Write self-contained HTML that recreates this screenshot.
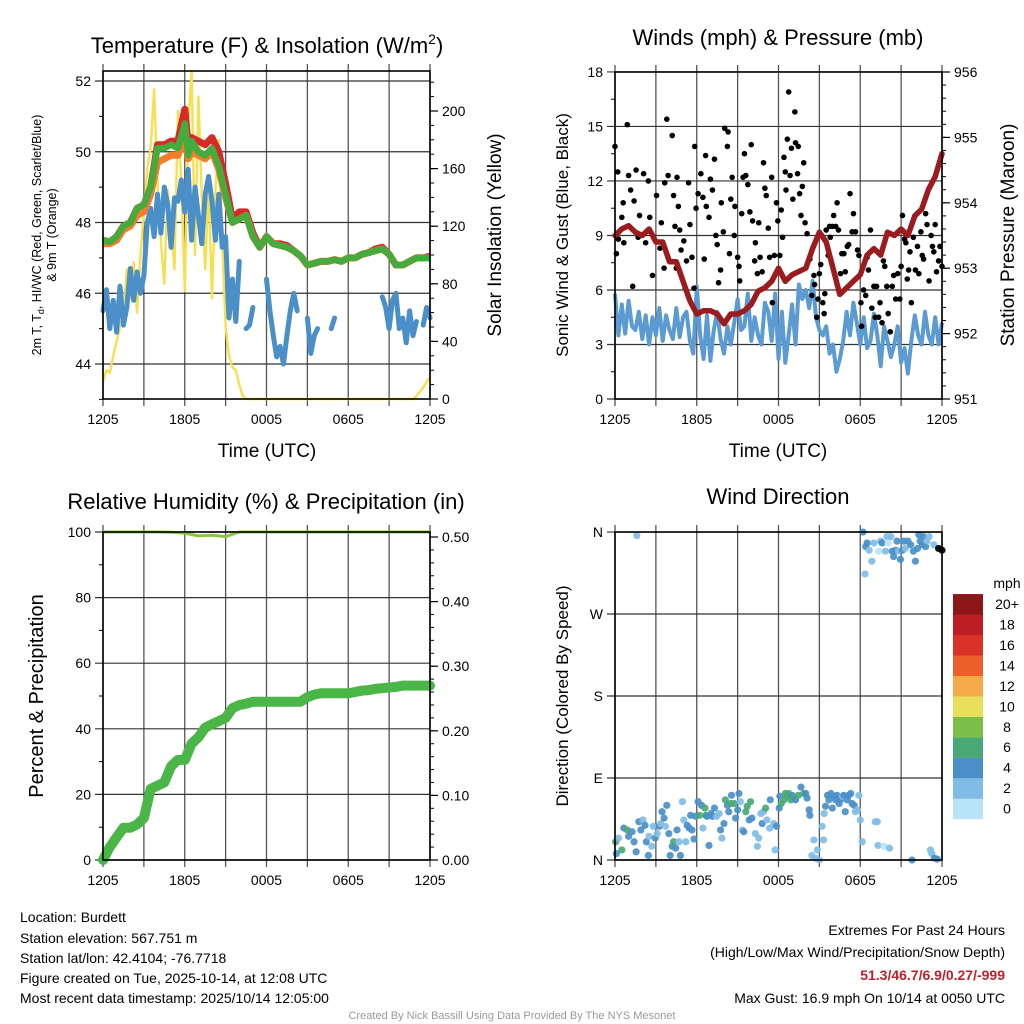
<!DOCTYPE html>
<html><head><meta charset="utf-8">
<style>
html,body{margin:0;padding:0;background:#fff;}
svg{display:block;font-family:"Liberation Sans",sans-serif;}
</style></head>
<body>
<svg id="fig" width="1024" height="1024" viewBox="0 0 1024 1024">
<g id="layer-grid"></g>
<g id="layer-data"></g>
<g id="layer-axes"></g>

<text x="267" y="53" font-size="22" text-anchor="middle">Temperature (F) &amp; Insolation (W/m<tspan font-size="14" dy="-9">2</tspan><tspan dy="9">)</tspan></text>
<text x="778" y="45" font-size="22" text-anchor="middle">Winds (mph) &amp; Pressure (mb)</text>
<text x="266" y="509" font-size="22" text-anchor="middle">Relative Humidity (%) &amp; Precipitation (in)</text>
<text x="778" y="504" font-size="22" text-anchor="middle">Wind Direction</text>

<text x="267" y="457" font-size="19" text-anchor="middle">Time (UTC)</text>
<text x="778" y="457" font-size="19" text-anchor="middle">Time (UTC)</text>

<text transform="translate(41,235) rotate(-90)" font-size="12.5" text-anchor="middle">2m T, T<tspan font-size="9" dy="3">d</tspan><tspan dy="-3">, HI/WC (Red, Green, Scarlet/Blue)</tspan></text>
<text transform="translate(56,235) rotate(-90)" font-size="12.5" text-anchor="middle">&amp; 9m T (Orange)</text>
<text transform="translate(501,235) rotate(-90)" font-size="19" text-anchor="middle">Solar Insolation (Yellow)</text>
<text transform="translate(568,235) rotate(-90)" font-size="17" text-anchor="middle">Sonic Wind &amp; Gust (Blue, Black)</text>
<text transform="translate(1014,235) rotate(-90)" font-size="19" text-anchor="middle">Station Pressure (Maroon)</text>
<text transform="translate(43,696) rotate(-90)" font-size="20" text-anchor="middle">Percent &amp; Precipitation</text>
<text transform="translate(568,696) rotate(-90)" font-size="17" text-anchor="middle">Direction (Colored By Speed)</text>

<text x="1007" y="588" font-size="14" text-anchor="middle">mph</text>
<g id="colorbar"></g>

<g font-size="14">
<text x="20" y="922">Location: Burdett</text>
<text x="20" y="943">Station elevation: 567.751 m</text>
<text x="20" y="963">Station lat/lon: 42.4104; -76.7718</text>
<text x="20" y="983">Figure created on Tue, 2025-10-14, at 12:08 UTC</text>
<text x="20" y="1003">Most recent data timestamp: 2025/10/14 12:05:00</text>
</g>
<g font-size="14" text-anchor="end">
<text x="1005" y="935">Extremes For Past 24 Hours</text>
<text x="1005" y="957">(High/Low/Max Wind/Precipitation/Snow Depth)</text>
<text x="1005" y="980" font-weight="bold" fill="#c0202a">51.3/46.7/6.9/0.27/-999</text>
<text x="1005" y="1003">Max Gust: 16.9 mph On 10/14 at 0050 UTC</text>
</g>
<text x="512" y="1019" font-size="11" fill="#999" text-anchor="middle">Created By Nick Bassill Using Data Provided By The NYS Mesonet</text>
</svg>

<script>
// ---------- DATA ----------
const timeTicks = ["1205","1805","0005","0605","1205"];
const tempHours = [0,0.5,1,1.5,2,2.5,3,3.5,4,4.5,5,5.5,6,6.25,6.5,7,7.5,8,8.5,9,9.5,10,10.5,11,11.5,12,12.5,13,13.5,14,14.5,15,15.5,16,16.5,17,17.5,18,18.5,19,19.5,20,20.5,21,21.5,22,22.5,23,23.5,24];
const greenT = [47.5,47.45,47.6,47.9,48.0,48.4,48.5,49.0,50.1,50.1,50.2,50.1,50.8,49.9,50.3,50.0,49.9,50.1,49.6,48.8,48.0,48.1,48.2,47.6,47.3,47.6,47.4,47.35,47.3,47.2,47.05,46.8,46.85,46.9,46.9,46.95,46.9,47.0,47.0,47.1,47.15,47.2,47.25,47.1,46.8,46.8,46.9,47.0,47.0,47.0];
const redT   = [47.5,47.45,47.6,47.9,48.0,48.4,48.5,49.0,50.2,50.2,50.3,50.3,51.2,50.2,50.4,50.3,50.2,50.4,50.0,49.1,48.1,48.3,48.3,47.7,47.3,47.6,47.4,47.4,47.35,47.2,47.05,46.8,46.85,46.9,46.9,46.95,46.9,47.0,47.0,47.1,47.15,47.25,47.3,47.1,46.8,46.8,46.9,47.0,47.0,47.05];
const orangeT= [47.4,47.4,47.5,47.8,47.9,48.2,48.3,48.8,49.7,49.8,49.9,49.9,50.4,49.8,50.0,49.9,49.8,50.0,49.5,48.7,48.0,48.1,48.2,47.6,47.3,47.6,47.4,47.35,47.3,47.2,47.05,46.8,46.85,46.9,46.9,46.95,46.9,47.0,47.0,47.1,47.15,47.2,47.25,47.1,46.8,46.8,46.9,47.0,47.0,47.0];
const dewT = [45.5,46.1,45.0,45.8,44.9,46.2,45.1,45.6,46.7,45.8,46.6,46.0,46.5,48.0,48.4,47.6,48.8,47.7,49.0,48.5,47.3,48.7,48.6,49.2,48.3,49.5,47.5,49.0,48.2,47.4,48.8,49.3,48.6,47.5,48.8,47.3,47.6,45.3,46.4,45.2,46.9,null,45.0,45.1,45.6,null,null,null,46.4,45.5,44.8,44.2,44.5,44.0,44.8,45.5,46.0,45.5,null,null,45.3,44.3,44.8,45.0,null,45.8,null,45.0,45.3,null,null,null,null,45.4,null,null,null,null,null,null,null,null,45.9,45.6,45.0,45.8,46.0,45.0,45.3,44.6,45.5,44.8,45.2,null,45.1,45.6,45.3];
const solar = [12,20,18,30,40,50,60,90,70,95,60,100,130,160,175,215,150,110,80,145,120,90,200,150,75,190,228,100,210,140,90,150,70,145,180,110,50,30,22,20,10,2,0,0,0,0,0,0,0,0,0,0,0,0,0,0,0,0,0,0,0,0,0,0,0,0,0,0,0,0,0,0,0,0,0,0,0,0,0,0,0,0,0,0,0,0,0,0,0,0,0,0,2,5,8,12,15];
const pressure = [953.5,953.6,953.65,953.55,953.5,953.6,953.4,953.4,953.1,953.1,952.8,952.5,952.3,952.35,952.35,952.3,952.15,952.3,952.3,952.35,952.45,952.65,952.7,952.8,953.0,952.8,952.9,952.95,953.0,953.3,953.55,953.4,953.0,952.6,952.7,952.8,952.9,953.2,953.3,953.2,953.55,953.5,953.6,953.5,953.8,953.9,954.2,954.4,954.75];
const windSpd = [5.8,3.5,5.2,3.6,5.4,4.0,3.8,4.8,3.3,4.6,3.0,4.5,3.5,5.0,3.2,4.6,3.8,3.3,5.0,3.4,4.5,4.8,3.2,2.5,6.2,3.5,2.2,4.6,2.1,3.8,4.8,3.3,2.5,4.0,3.0,4.2,5.5,3.8,4.0,5.8,3.2,4.5,3.5,3.0,5.3,4.8,3.2,5.8,2.2,4.8,2.0,3.5,5.2,3.0,6.3,5.5,6.0,5.0,6.5,4.5,3.8,3.5,4.0,2.5,3.0,1.5,2.2,3.2,4.8,3.5,5.3,4.2,3.0,4.5,2.8,3.2,4.7,3.5,1.8,4.0,3.2,2.3,3.0,4.0,2.0,2.8,1.4,3.2,4.6,3.5,3.0,4.8,3.5,3.0,4.5,3.0,4.2];
const gustHours = [0,0.1,0.2,0.25,0.5,0.6,0.65,0.9,1.0,1.15,1.3,1.4,1.55,1.7,1.8,2.1,2.25,2.45,2.55,2.75,3.05,3.3,3.4,3.6,3.65,3.8,3.9,4.2,4.3,4.4,4.5,4.55,4.65,4.75,4.85,5.05,5.15,5.25,5.4,5.5,5.65,5.8,5.85,5.95,6.1,6.3,6.45,6.55,6.65,6.7,6.9,7.0,7.15,7.3,7.4,7.5,7.6,7.75,7.8,7.95,8.05,8.25,8.3,8.4,8.5,8.6,8.75,8.8,9.0,9.1,9.15,9.3,9.4,9.5,9.6,9.75,9.9,10.0,10.1,10.25,10.3,10.45,10.55,10.65,10.8,10.9,11.0,11.1,11.25,11.35,11.5,11.55,11.7,11.85,11.95,12.1,12.2,12.3,12.4,12.5,12.55,12.65,12.75,12.85,12.95,13.05,13.2,13.25,13.4,13.45,13.55,13.65,13.75,13.85,13.95,14.1,14.3,14.45,14.6,14.65,14.8,14.9,15.0,15.1,15.25,15.35,15.4,15.5,15.65,15.75,15.8,15.95,16.05,16.2,16.3,16.4,16.55,16.65,16.8,16.9,17.05,17.15,17.25,17.4,17.5,17.65,17.8,17.9,18.05,18.1,18.25,18.4,18.5,18.6,18.75,18.85,19.0,19.1,19.2,19.35,19.45,19.6,19.7,19.8,19.95,20.05,20.2,20.35,20.45,20.6,20.75,20.9,21.0,21.1,21.25,21.35,21.45,21.55,21.65,21.75,21.9,22.05,22.2,22.3,22.45,22.55,22.65,22.8,22.9,23.05,23.2,23.3,23.4,23.5,23.6,23.75,23.85,24.0];
const gustSpd = [13.9,8.0,12.5,8.8,10.0,10.8,8.6,15.1,12.3,11.5,6.2,10.9,12.6,8.9,10.1,12.4,8.6,12.0,10.0,6.8,11.2,8.3,9.7,7.2,11.9,15.4,12.3,14.5,11.2,9.5,7.2,12.2,10.6,9.3,8.2,8.7,6.1,7.6,11.9,9.6,7.8,6.1,13.9,10.5,11.3,12.4,11.1,7.7,13.4,10.6,10.0,12.1,11.5,13.2,9.0,8.5,6.4,7.1,10.8,9.2,14.9,13.9,14.7,8.0,11.0,12.2,9.0,10.6,7.8,7.3,6.5,10.2,12.2,13.5,12.3,11.8,10.3,14.0,9.8,7.6,8.6,6.9,9.7,7.8,7.0,13.0,11.6,11.2,9.4,7.8,12.2,5.3,7.9,10.8,9.8,7.9,10.4,8.9,13.3,12.5,11.5,14.3,16.9,12.3,13.8,11.0,15.8,14.1,12.4,13.9,11.3,10.1,11.7,13.0,9.7,9.1,7.7,5.7,6.8,6.3,4.5,5.5,6.9,7.4,5.3,4.7,5.8,9.3,7.9,9.5,8.9,9.5,10.1,9.5,10.8,9.3,6.9,8.0,8.0,7.0,8.4,8.5,11.3,9.2,10.2,9.2,8.2,7.9,5.3,4.0,6.0,5.7,7.8,7.1,9.3,5.0,6.2,4.5,6.2,4.5,5.3,4.2,7.6,7.3,6.2,4.7,3.7,6.2,6.8,5.5,6.9,5.5,7.3,10.1,8.8,8.6,6.6,7.1,8.1,5.3,8.9,7.1,8.4,6.9,9.2,7.9,7.7,10.2,9.6,6.5,9.0,8.4,8.1,9.6,7.0,7.6,8.4,7.3];
const rhVals = [100,100,100,100,100,99.9,99.6,98.8,99.0,98.6,100,100,100,100,100,100,100,100,100,100,100,100,100,100,100];
const precip = [0,0.02,0.035,0.05,0.05,0.055,0.065,0.11,0.115,0.12,0.145,0.155,0.155,0.18,0.19,0.205,0.21,0.215,0.22,0.235,0.24,0.242,0.245,0.245,0.245,0.245,0.245,0.245,0.245,0.245,0.252,0.256,0.258,0.258,0.258,0.258,0.258,0.26,0.262,0.263,0.265,0.266,0.267,0.268,0.27,0.27,0.27,0.27,0.27];
const dirHours = [0.05,0.1,0.25,0.5,0.65,0.9,1.0,1.25,1.4,1.55,1.6,1.75,1.9,2.05,2.2,2.3,2.45,2.5,2.7,2.8,2.95,3.1,3.25,3.35,3.45,3.6,3.7,3.8,3.95,4.05,4.2,4.3,4.45,4.55,4.7,4.8,4.95,5.05,5.2,5.3,5.45,5.55,5.65,5.8,5.9,6.1,6.2,6.35,6.45,6.6,6.65,6.75,6.9,7.05,7.15,7.3,7.45,7.65,7.75,7.85,8.0,8.1,8.25,8.35,8.5,8.55,8.75,8.85,9.0,9.1,9.2,9.35,9.45,9.6,9.7,9.85,9.95,10.05,10.3,10.45,10.55,10.7,10.8,10.9,11.05,11.15,11.35,11.4,11.65,11.75,11.85,12.05,12.1,12.2,12.4,12.5,12.65,12.75,12.9,13.0,13.1,13.25,13.45,13.65,13.85,14.0,14.1,14.25,14.3,14.45,14.6,14.7,14.85,15.0,15.2,15.3,15.35,15.45,15.6,15.7,15.85,15.95,16.1,16.2,16.3,16.45,16.55,16.7,16.8,16.9,17.05,17.15,17.3,17.4,17.55,17.65,17.8,17.9,18.0,18.15,18.2,18.35,18.4,18.5,18.65,18.85,19.0,19.1,19.25,19.3,19.35,19.5,19.6,19.75,19.85,19.95,20.05,20.15,20.25,20.35,20.45,20.6,20.7,20.8,20.95,21.1,21.2,21.3,21.5,21.7,21.8,21.9,22.05,22.2,22.3,22.4,22.55,22.65,22.8,22.9,23.05,23.15,23.25,23.4,23.45,23.65,23.75,24.0];
const dirDeg = [20,7,24,11,35,33,26,31,20,9,356,42,33,44,38,20,5,26,15,37,24,29,37,40,53,46,37,60,29,5,15,20,13,33,20,5,64,44,20,38,35,49,33,23,48,64,49,60,35,57,49,48,16,51,48,57,48,51,33,24,40,66,60,53,62,71,62,46,55,73,64,33,31,53,59,44,64,46,29,15,24,51,40,53,57,44,35,66,40,11,37,57,70,62,66,73,70,73,66,71,68,66,71,80,73,73,68,55,49,5,22,2,11,0,37,22,51,59,71,66,73,57,70,66,71,62,66,70,71,53,66,71,73,62,60,53,55,71,44,20,360,314,344,348,340,328,348,42,42,16,339,350,348,15,339,355,348,13,355,339,333,340,350,339,330,340,350,342,350,346,0,339,328,342,357,350,346,355,344,350,355,11,7,346,2,1,342,340];
const dirSpd = [6.5,5,3,7,4.5,7,5,5,4.5,4.5,3,4.5,5,3,4.5,4.5,4.5,3,3,3,4.5,3,4.5,3,4.5,5,3,4.5,4.5,4.5,4.5,7,4.5,5,3,4.5,3,3,3,4.5,4.5,4.5,4.5,4.5,4.5,4.5,7,4.5,3,7,7,4.5,4.5,4.5,5,4.5,3,3,4.5,3,4.5,7,4.5,4.5,7,4.5,7,4.5,5,4.5,3,3,4.5,7,7,4.5,7,4.5,3,3,3,3,4.5,3,7,3,3,4.5,3,3,4.5,4.5,5,7,7,7,7,7,7,4.5,7,4.5,7,4.5,7,4.5,4.5,4.5,4.5,3,3,3,3,3,3,3,3,4.5,4.5,4.5,4.5,4.5,4.5,4.5,4.5,4.5,4.5,3,4.5,4.5,4.5,4.5,4.5,4.5,4.5,3,3,3,3,3,4.5,3,4.5,4.5,3,3,3,3,3,3,1,3,4.5,1,3,3,1,3,3,4.5,4.5,4.5,4.5,3,4.5,4.5,4.5,3,4.5,4.5,4.5,4.5,4.5,4.5,4.5,4.5,4.5,4.5,4.5,3,3,3,3,3,4.5,4.5];
const cbLabels = ["0","2","4","6","8","10","12","14","16","18","20+"];
const cbColors = ["#b9e3f7","#80bde6","#4a8fc7","#4aa874","#7cc04b","#e8e05a","#f5aa48","#ee5f2b","#db3228","#bd1e24","#8e1518"];

// ---------- HELPERS ----------
const NS = "http://www.w3.org/2000/svg";
const gGrid = document.getElementById("layer-grid");
const gData = document.getElementById("layer-data");
const gAxes = document.getElementById("layer-axes");
function el(tag, attrs, parent, name){
  const e = document.createElementNS(NS, tag);
  for (const k in attrs) e.setAttribute(k, attrs[k]);
  
  
  parent.appendChild(e);
  return e;
}
function txt(x,y,s,size,anchor,parent,name){
  const t = el("text",{x:x,y:y,"font-size":size,"text-anchor":anchor},parent,name);
  t.textContent = s;
  return t;
}
function pathFrom(xs, ys, xf, yf){
  let d = "", pen = false;
  for (let i=0;i<xs.length;i++){
    if (ys[i]===null || ys[i]===undefined){ pen=false; continue; }
    d += (pen?"L":"M") + xf(xs[i]).toFixed(1) + "," + yf(ys[i]).toFixed(1);
    pen = true;
  }
  return d;
}
function idxHours(n){ const a=[]; for(let i=0;i<n;i++) a.push(i*24/(n-1)); return a; }

function panel(x0,x1,yT,yB,key){
  const X = h => x0 + h*(x1-x0)/24;
  for (let i=0;i<=8;i++){
    const x = X(i*3);
    el("line",{x1:x,y1:yT-7,x2:x,y2:yB+7,stroke:"#555","stroke-width":1.3},gGrid,key+"-vgrid");
  }
  el("rect",{x:x0,y:yT,width:x1-x0,height:yB-yT,fill:"none",stroke:"#000","stroke-width":1.6},gAxes,key+"-frame");
  for (let i=0;i<5;i++) txt(X(i*6), yB+25, timeTicks[i], 14, "middle", gAxes, key+"-x-tick-label");
  return X;
}
function leftAxis(x0,x1,yf,vals,labels,minors,key){
  vals.forEach((v,i)=>{
    const y=yf(v);
    el("line",{x1:x0-8,y1:y,x2:x1,y2:y,stroke:"#333","stroke-width":1.2},gGrid,key+"-hgrid");
    txt(x0-12,y+5,labels[i],14,"end",gAxes,key+"-y-tick-label");
  });
  minors.forEach(v=>{ const y=yf(v); el("line",{x1:x0-4,y1:y,x2:x0,y2:y,stroke:"#000","stroke-width":1},gAxes,key+"-minor-tick"); });
}
function rightAxis(x1,yf,vals,labels,minors,key){
  vals.forEach((v,i)=>{
    const y=yf(v);
    el("line",{x1:x1,y1:y,x2:x1+8,y2:y,stroke:"#000","stroke-width":1.2},gAxes,key+"-right-tick");
    txt(x1+12,y+5,labels[i],14,"start",gAxes,key+"-right-tick-label");
  });
  minors.forEach(v=>{ const y=yf(v); el("line",{x1:x1,y1:y,x2:x1+4,y2:y,stroke:"#000","stroke-width":1},gAxes,key+"-right-minor-tick"); });
}
function range(a,b,s){ const r=[]; for(let v=a; v<=b+1e-9; v+=s) r.push(+v.toFixed(4)); return r; }

// ---------- PANEL 1 ----------
const X1 = panel(103,430,71,399,"temp");
const yT = t => 81 + (52-t)*35.375;
const yS = s => 399 - s*1.44;
leftAxis(103,430,yT,[44,46,48,50,52],["44","46","48","50","52"],[43,45,47,49,51],"temp");
rightAxis(430,yS,[0,40,80,120,160,200],["0","40","80","120","160","200"],range(10,220,10),"solar");
el("path",{d:pathFrom(idxHours(solar.length),solar,X1,yS),fill:"none",stroke:"#f7df4f","stroke-width":2.4,"stroke-linejoin":"round"},gData,"solar-insolation-line");
el("path",{d:pathFrom(idxHours(dewT.length),dewT,X1,yT),fill:"none",stroke:"#4a8fc7","stroke-width":5,"stroke-linecap":"round","stroke-linejoin":"round"},gData,"dewpoint-line");
el("path",{d:pathFrom(tempHours,redT,X1,yT),fill:"none",stroke:"#d62a2a","stroke-width":7,"stroke-linejoin":"round"},gData,"heat-index-line");
el("path",{d:pathFrom(tempHours,orangeT,X1,yT),fill:"none",stroke:"#f47c2a","stroke-width":7,"stroke-linejoin":"round"},gData,"temp-9m-line");
el("path",{d:pathFrom(tempHours,greenT,X1,yT),fill:"none",stroke:"#45ab3c","stroke-width":6.5,"stroke-linejoin":"round"},gData,"temp-2m-line");

// ---------- PANEL 2 ----------
const X2 = panel(615,942,72,399,"wind");
const yW = v => 399 - v*18.17;
const yP = p => 399 - (p-951)*65.4;
leftAxis(615,942,yW,[0,3,6,9,12,15,18],["0","3","6","9","12","15","18"],range(1.5,16.5,3),"wind");
rightAxis(942,yP,[951,952,953,954,955,956],["951","952","953","954","955","956"],range(951.2,955.8,0.2),"pressure");
el("path",{d:pathFrom(idxHours(windSpd.length),windSpd,X2,yW),fill:"none",stroke:"#5b9bd2","stroke-width":4,"stroke-linejoin":"round"},gData,"sonic-wind-line");
gustHours.forEach((h,i)=>{
  el("circle",{cx:X2(h),cy:yW(gustSpd[i]),r:2.8,fill:"#000"},gData,"gust-point");
});
el("path",{d:pathFrom(idxHours(pressure.length),pressure,X2,yP),fill:"none",stroke:"#9b1b1e","stroke-width":5.5,"stroke-linejoin":"round","stroke-linecap":"round"},gData,"pressure-line");

// ---------- PANEL 3 ----------
const X3 = panel(103,430,532,860,"rh");
const yR = r => 860 - r*3.28;
const yPr = p => 860 - p*646;
leftAxis(103,430,yR,[0,20,40,60,80,100],["0","20","40","60","80","100"],[10,30,50,70,90],"rh");
rightAxis(430,yPr,[0,0.1,0.2,0.3,0.4,0.5],["0.00","0.10","0.20","0.30","0.40","0.50"],range(0.02,0.48,0.02),"precip");
el("path",{d:pathFrom(idxHours(precip.length),precip,X3,yPr),fill:"none",stroke:"#4bb648","stroke-width":10,"stroke-linecap":"round","stroke-linejoin":"round"},gData,"precipitation-line");
el("path",{d:pathFrom(idxHours(rhVals.length),rhVals,X3,yR),fill:"none",stroke:"#8cc63f","stroke-width":3,"stroke-linejoin":"round"},gData,"relative-humidity-line");

// ---------- PANEL 4 ----------
const X4 = panel(615,942,532,860,"dir");
const yD = d => 860 - d*0.911;
leftAxis(615,942,yD,[0,90,180,270,360],["N","E","S","W","N"],[],"dir");
dirHours.forEach((h,i)=>{
  const bin = Math.min(10, Math.floor(dirSpd[i]/2));
  el("circle",{cx:X4(h),cy:yD(dirDeg[i]),r:3.6,fill:cbColors[bin],"fill-opacity":0.92},gData,"wind-direction-point");
});

const cb = document.getElementById("colorbar");
cbColors.forEach((col,i)=>{
  const y0 = 819 - (i+1)*20.45;
  el("rect",{x:953,y:y0,width:30,height:20.6,fill:col},cb,"colorbar-swatch");
  txt(1007,y0+15,cbLabels[i],14,"middle",cb,"colorbar-label");
});
</script>
</body></html>
